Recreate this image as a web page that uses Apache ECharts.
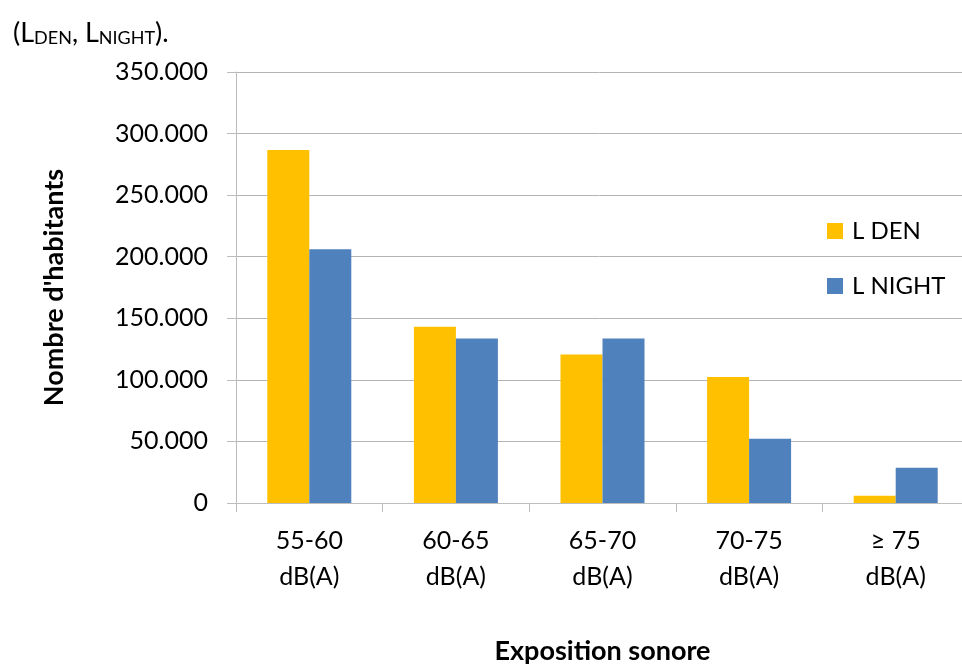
<!DOCTYPE html>
<html>
<head>
<meta charset="utf-8">
<title>Exposition sonore</title>
<script src="https://cdn.jsdelivr.net/npm/echarts@6/dist/echarts.min.js"></script>
<style>
  html, body { margin: 0; padding: 0; background: #ffffff; }
  #chart { width: 962px; height: 666px; }
</style>
</head>
<body>
<div id="chart"></div>
<script>
// Noise exposure bands (x axis)
const categories = ['55-60\ndB(A)', '60-65\ndB(A)', '65-70\ndB(A)', '70-75\ndB(A)', '\u2265 75\ndB(A)'];
// Number of inhabitants per band
const lden = [286600, 143200, 120500, 102300, 5900];
const lnight = [206100, 133500, 133500, 52200, 28600];
const seriesNames = ['L DEN', 'L NIGHT'];
const yTicks = { min: 0, max: 350000, interval: 50000 };

const FONT = 'Lato, "Open Sans", sans-serif';
const GRID_COLOR = '#b5b5b5';
const AXIS_COLOR = '#bdbdbd';

function thousands(v) {
  if (v === 0) return '0';
  const s = String(Math.round(v));
  return s.replace(/\B(?=(\d{3})+(?!\d))/g, '.');
}

const chart = echarts.init(document.getElementById('chart'), null, { renderer: 'canvas' });

chart.setOption({
  backgroundColor: '#ffffff',
  animation: false,
  title: {
    text: '{n|(L}{s|DEN}{n|, L}{s|NIGHT}{n|).}',
    left: 8,
    top: 12,
    textStyle: {
      fontWeight: 'normal',
      rich: {
        n: { fontFamily: FONT, fontSize: 27, fontWeight: 'normal', color: '#000000', verticalAlign: 'bottom', lineHeight: 30 },
        s: { fontFamily: FONT, fontSize: 18, fontWeight: 'normal', color: '#000000', verticalAlign: 'bottom', lineHeight: 30 }
      }
    }
  },
  legend: {
    orient: 'vertical',
    left: 827,
    top: 219,
    padding: 0,
    itemWidth: 16,
    itemHeight: 16,
    itemGap: 31,
    icon: 'rect',
    data: seriesNames,
    textStyle: { fontFamily: FONT, fontSize: 24, lineHeight: 24, color: '#000000', padding: [0, 0, 0, 4] }
  },
  grid: {
    left: 236,
    top: 72,
    width: 733,
    height: 431,
    containLabel: false,
    outerBoundsMode: 'none'
  },
  xAxis: {
    type: 'category',
    data: categories,
    name: 'Exposition sonore',
    nameLocation: 'middle',
    nameGap: 135,
    nameTextStyle: { fontFamily: FONT, fontSize: 27, fontWeight: 'bold', color: '#000000' },
    axisLine: { show: true, lineStyle: { color: AXIS_COLOR, width: 1 } },
    axisTick: { show: true, length: 9, lineStyle: { color: AXIS_COLOR } },
    axisLabel: { fontFamily: FONT, fontSize: 25, lineHeight: 36, color: '#000000', margin: 20, interval: 0 }
  },
  yAxis: {
    type: 'value',
    min: yTicks.min,
    max: yTicks.max,
    interval: yTicks.interval,
    name: "Nombre d'habitants",
    nameLocation: 'middle',
    nameGap: 168,
    nameTextStyle: { fontFamily: FONT, fontSize: 27, fontWeight: 'bold', color: '#000000' },
    axisLine: { show: true, lineStyle: { color: AXIS_COLOR, width: 1 } },
    axisTick: { show: true, length: 9, lineStyle: { color: AXIS_COLOR } },
    axisLabel: { fontFamily: FONT, fontSize: 25, color: '#000000', margin: 28, formatter: thousands },
    splitLine: { show: true, lineStyle: { color: GRID_COLOR, width: 1 } }
  },
  series: [
    {
      name: seriesNames[0],
      type: 'bar',
      data: lden,
      barWidth: 42,
      barGap: '0%',
      itemStyle: { color: '#ffc000' }
    },
    {
      name: seriesNames[1],
      type: 'bar',
      data: lnight,
      barWidth: 42,
      barGap: '0%',
      itemStyle: { color: '#4f81bd' }
    }
  ]
});
</script>
</body>
</html>
